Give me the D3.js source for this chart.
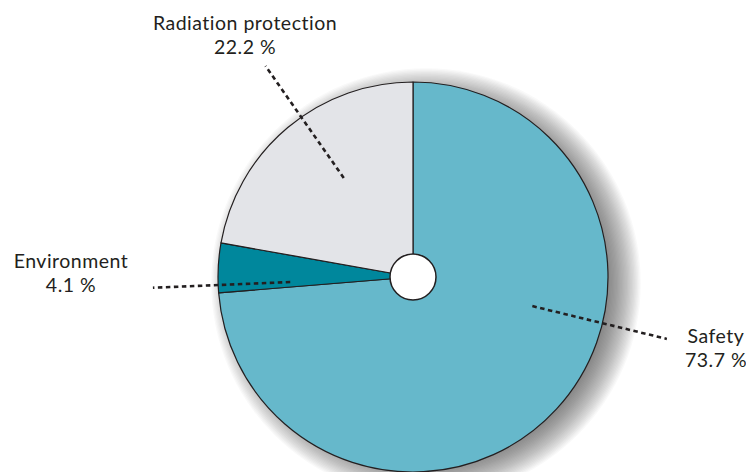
<!DOCTYPE html>
<html>
<head>
<meta charset="utf-8">
<script src="https://cdn.jsdelivr.net/npm/d3@7"></script>
<style>
  html, body { margin: 0; padding: 0; background: #fff; }
  svg { display: block; }
  text { font-family: Lato, "Open Sans", sans-serif; fill: #231f20; letter-spacing: 0.5px; }
</style>
</head>
<body>
<svg id="chart" width="746" height="472"></svg>
<script>
// Share of budget by area
const categories = ["Safety", "Environment", "Radiation protection"];
const values = [73.7, 4.1, 22.2];
const colors = ["#66b8cb", "#00879c", "#e3e4e8"];

const W = 746, H = 472;
const cx = 413, cy = 277, R = 195, hole = 23;

const svg = d3.select("#chart");

// soft shadow behind the disc, built from stacked translucent rings
const shadow = svg.append("g").attr("transform", `translate(${cx + 13},${cy + 6})`);
const ringRadii = d3.range(R - 14, R + 20, 1.25);
shadow.selectAll("circle").data(ringRadii).join("circle")
  .attr("r", d => d)
  .attr("fill", "#404043")
  .attr("fill-opacity", 0.03);

const pie = d3.pie().sort(null).value(d => d.value);
const arcs = pie(categories.map((c, i) => ({ name: c, value: values[i] })));
const arc = d3.arc().innerRadius(0).outerRadius(R);

const g = svg.append("g").attr("transform", `translate(${cx},${cy})`);

g.selectAll("path.slice").data(arcs).join("path")
  .attr("class", "slice")
  .attr("d", arc)
  .attr("fill", (d, i) => colors[i])
  .attr("stroke", "#231f20")
  .attr("stroke-width", 1.2)
  .attr("stroke-linejoin", "round");

g.append("circle").attr("r", hole)
  .attr("fill", "#fff").attr("stroke", "#231f20").attr("stroke-width", 1.5);

// leader lines: angle (radians, clockwise from 12 o'clock) and inner/outer radius factors
const leaders = [
  { angle: 1.81, rIn: 0.63, rOut: 1.34 },
  { angle: -1.612, rIn: 0.63, rOut: 1.335 },
  { angle: -0.61, rIn: 0.62, rOut: 1.32 }
];
function polar(angle, r) {
  return [Math.sin(angle) * r, -Math.cos(angle) * r];
}
leaders.forEach(L => {
  const p0 = polar(L.angle, R * L.rIn), p1 = polar(L.angle, R * L.rOut);
  g.append("line")
    .attr("x1", p0[0]).attr("y1", p0[1]).attr("x2", p1[0]).attr("y2", p1[1])
    .attr("stroke", "#231f20").attr("stroke-width", 2.6)
    .attr("stroke-dasharray", "4.5,3.5");
});

// labels
const labelPos = [
  { x: 716, y: 343 },
  { x: 71, y: 268 },
  { x: 245, y: 30 }
];
categories.forEach((c, i) => {
  const t = svg.append("text").attr("text-anchor", "middle").attr("font-size", 19.5);
  t.append("tspan").attr("x", labelPos[i].x).attr("y", labelPos[i].y).text(c);
  t.append("tspan").attr("x", labelPos[i].x).attr("dy", 23.5)
    .text(d3.format(".1f")(values[i]) + " %");
});
</script>
</body>
</html>
